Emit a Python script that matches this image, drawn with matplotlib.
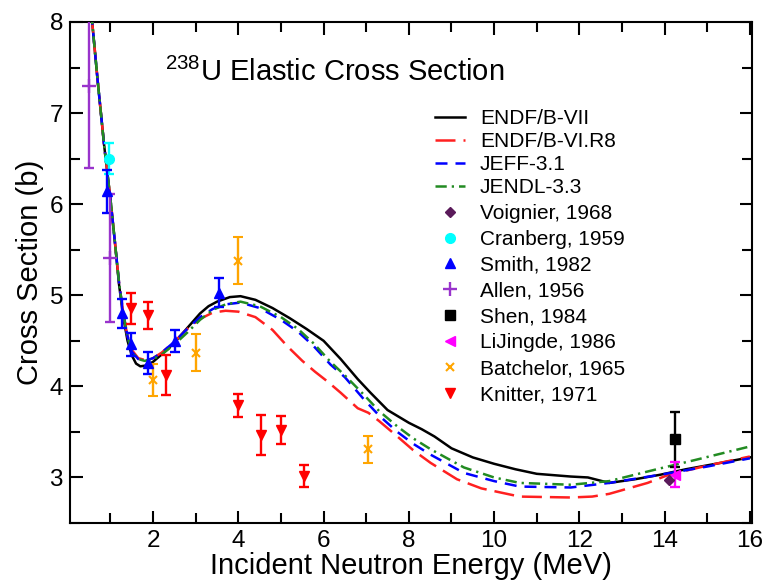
import matplotlib
matplotlib.use("Agg")
import matplotlib.pyplot as plt
from matplotlib.ticker import MultipleLocator
import numpy as np

plt.rcParams['font.family'] = ['Liberation Sans', 'DejaVu Sans']
plt.rcParams['mathtext.fontset'] = 'custom'
plt.rcParams['mathtext.rm'] = 'Liberation Sans'
plt.rcParams['mathtext.it'] = 'Liberation Sans:italic'

# Evaluated cross sections (MeV, barns)
endf7_e = [0.55, 0.70, 0.85, 1.00, 1.10, 1.20, 1.30, 1.40, 1.50, 1.60, 1.70, 1.85,
           2.00, 2.20, 2.50, 2.80, 3.10, 3.30, 3.50, 3.80, 4.05, 4.40, 4.80, 5.20, 5.60,
           6.00, 6.40, 6.80, 7.10, 7.50, 8.00, 8.30, 8.60, 9.00, 9.50, 10.0, 10.5,
           11.0, 11.8, 12.2, 12.7, 13.3, 13.9, 14.5, 15.2, 16.0]
endf7_xs = [8.10, 7.35, 6.65, 6.05, 5.60, 5.12, 4.76, 4.50, 4.34, 4.25, 4.22, 4.23,
            4.27, 4.35, 4.48, 4.64, 4.80, 4.88, 4.93, 4.98, 4.99, 4.95, 4.86, 4.75, 4.63,
            4.50, 4.30, 4.08, 3.93, 3.74, 3.60, 3.53, 3.45, 3.32, 3.22, 3.15, 3.09,
            3.04, 3.01, 3.00, 2.94, 2.98, 3.03, 3.09, 3.15, 3.22]

endf6_e = [0.55, 0.70, 0.85, 1.00, 1.10, 1.20, 1.30, 1.40, 1.50, 1.65, 1.80, 2.00,
           2.20, 2.50, 2.80, 3.10, 3.40, 3.70, 4.00, 4.40, 4.80, 5.15, 5.50, 5.80,
           6.10, 6.40, 6.80, 7.05, 7.30, 7.73, 8.10, 8.51, 9.13, 9.70, 10.6, 11.8,
           12.3, 12.7, 13.6, 14.1, 15.0, 16.0]
endf6_xs = [8.10, 7.35, 6.65, 6.05, 5.60, 5.14, 4.80, 4.55, 4.40, 4.31, 4.29, 4.31,
            4.37, 4.49, 4.63, 4.74, 4.81, 4.83, 4.82, 4.76, 4.62, 4.44, 4.28, 4.16,
            4.05, 3.93, 3.76, 3.71, 3.62, 3.45, 3.30, 3.16, 2.98, 2.88, 2.79, 2.78,
            2.79, 2.82, 2.94, 3.03, 3.13, 3.23]

jeff_e = [0.55, 0.70, 0.85, 1.00, 1.10, 1.20, 1.30, 1.40, 1.50, 1.65, 1.80, 2.00,
          2.20, 2.50, 2.80, 3.10, 3.40, 3.70, 4.05, 4.50, 5.00, 5.40, 5.77, 6.16,
          6.50, 6.94, 7.30, 7.73, 8.10, 8.51, 9.29, 10.0, 10.6, 11.8, 12.7, 13.9,
          15.0, 16.0]
jeff_xs = [8.10, 7.35, 6.65, 6.05, 5.60, 5.14, 4.80, 4.55, 4.38, 4.30, 4.28, 4.31,
           4.37, 4.49, 4.63, 4.76, 4.85, 4.90, 4.92, 4.86, 4.73, 4.60, 4.44, 4.24,
           4.10, 3.86, 3.68, 3.50, 3.37, 3.25, 3.05, 2.96, 2.90, 2.89, 2.94, 3.03,
           3.12, 3.21]

jendl_e = [0.55, 0.70, 0.85, 1.00, 1.10, 1.20, 1.30, 1.40, 1.50, 1.65, 1.80, 2.00,
           2.20, 2.50, 2.80, 3.10, 3.40, 3.70, 4.05, 4.50, 5.00, 5.40, 5.77, 6.16,
           6.50, 6.94, 7.30, 7.73, 8.10, 8.51, 9.29, 10.0, 10.6, 11.8, 12.7, 13.9,
           14.7, 16.0]
jendl_xs = [8.10, 7.35, 6.65, 6.05, 5.60, 5.14, 4.80, 4.55, 4.38, 4.30, 4.28, 4.30,
            4.35, 4.46, 4.59, 4.73, 4.84, 4.90, 4.93, 4.88, 4.76, 4.63, 4.47, 4.27,
            4.12, 3.91, 3.73, 3.56, 3.43, 3.31, 3.11, 3.00, 2.94, 2.92, 2.96, 3.10,
            3.19, 3.34]

# Measurements: energy, cross section, uncertainty
voignier_e, voignier_xs = [14.1], [2.97]
cranberg_e, cranberg_xs, cranberg_err = [0.96], [6.50], [0.17]
smith_e = [0.92, 1.26, 1.47, 1.87, 2.52, 3.55]
smith_xs = [6.14, 4.80, 4.46, 4.26, 4.50, 5.03]
smith_err = [0.24, 0.16, 0.13, 0.12, 0.12, 0.16]
allen_e = [0.50, 1.00]
allen_xs = [7.30, 5.41]
allen_err = [0.90, 0.70]
shen_e, shen_xs, shen_err = [14.25], [3.42], [0.30]
li_e, li_xs, li_err = [14.25], [3.03], [0.14]
batch_e = [2.0, 3.0, 4.0, 7.03]
batch_xs = [4.07, 4.37, 5.38, 3.31]
batch_err = [0.18, 0.20, 0.26, 0.15]
knitter_e = [1.48, 1.89, 2.31, 4.00, 4.52, 5.01, 5.53]
knitter_xs = [4.86, 4.78, 4.12, 3.79, 3.47, 3.52, 3.02]
knitter_err = [0.17, 0.15, 0.22, 0.13, 0.22, 0.15, 0.12]

W, H = 769, 584
fig = plt.figure(figsize=(W / 100, H / 100), dpi=100)
ax = fig.add_axes([70 / W, 1 - 523 / H, 682 / W, 501 / H])

lw = 1.8
l1, = ax.plot(endf7_e, endf7_xs, color='black', lw=lw, label='ENDF/B-VII', zorder=3)
l2, = ax.plot(endf6_e, endf6_xs, color='#ff2020', lw=lw, dashes=(8, 3.2),
              label='ENDF/B-VI.R8', zorder=3)
l3, = ax.plot(jeff_e, jeff_xs, color='#0000ff', lw=lw, dashes=(4.8, 3.2),
              label='JEFF-3.1', zorder=3)
l4, = ax.plot(jendl_e, jendl_xs, color='#228b22', lw=lw, dashes=(4.5, 2, 0.9, 2),
              label='JENDL-3.3', zorder=3)

eb = dict(elinewidth=1.7, capthick=1.7, capsize=3.6, linestyle='none', zorder=4)
h1, = ax.plot(voignier_e, voignier_xs, 'D', color='#5a1a5a', ms=5,
              linestyle='none', label='Voignier, 1968', zorder=5)
h2 = ax.errorbar(cranberg_e, cranberg_xs, yerr=cranberg_err, fmt='o', color='#00ffff',
                 ms=7, label='Cranberg, 1959', **eb)
h3 = ax.errorbar(smith_e, smith_xs, yerr=smith_err, fmt='^', color='#0000ff',
                 ms=7, label='Smith, 1982', **eb)
h4 = ax.errorbar(allen_e, allen_xs, yerr=allen_err, fmt='+', color='#9933cc',
                 ms=10, mew=1.7, label='Allen, 1956', **eb)
h5 = ax.errorbar(shen_e, shen_xs, yerr=shen_err, fmt='s', color='black',
                 ms=7, label='Shen, 1984', **eb)
h6 = ax.errorbar(li_e, li_xs, yerr=li_err, fmt='<', color='#ff00ff',
                 ms=7, label='LiJingde, 1986', **eb)
h7 = ax.errorbar(batch_e, batch_xs, yerr=batch_err, fmt='x', color='#ffa500',
                 ms=6, mew=1.5, label='Batchelor, 1965', **eb)
h8 = ax.errorbar(knitter_e, knitter_xs, yerr=knitter_err, fmt='v', color='#ff0000',
                 ms=7, label='Knitter, 1971', **eb)

ax.set_xlim(0.05, 16.05)
ax.set_ylim(2.5, 8)
ax.xaxis.set_major_locator(MultipleLocator(2))
ax.xaxis.set_minor_locator(MultipleLocator(1))
ax.yaxis.set_major_locator(MultipleLocator(1))
ax.yaxis.set_minor_locator(MultipleLocator(0.5))
ax.tick_params(which='both', direction='in', top=True, right=True, width=1.5,
               labelsize=17.5, pad=5)
ax.tick_params(which='major', length=9)
ax.tick_params(which='minor', length=7)
for s in ax.spines.values():
    s.set_linewidth(1.5)

ax.set_xlabel('Incident Neutron Energy (MeV)', fontsize=21, labelpad=0)
ax.set_ylabel('Cross Section (b)', fontsize=21, labelpad=4)
ax.text(0.139, 0.90, r'$^{238}$U Elastic Cross Section', transform=ax.transAxes,
        fontsize=21, ha='left', va='center')

leg_kw = dict(frameon=False, fontsize=15, borderpad=0, borderaxespad=0,
              handlelength=1.45, handletextpad=0.7, loc='upper left')
lines = [l1, l2, l3, l4]
leg1 = fig.legend(lines, [h.get_label() for h in lines],
                  bbox_to_anchor=(435 / W, 1 - 109 / H), labelspacing=0.19, **leg_kw)
marks = [h1, h2, h3, h4, h5, h6, h7, h8]
labels = ['Voignier, 1968', 'Cranberg, 1959', 'Smith, 1982', 'Allen, 1956',
          'Shen, 1984', 'LiJingde, 1986', 'Batchelor, 1965', 'Knitter, 1971']
handles = [h if not hasattr(h, 'lines') else h.lines[0] for h in marks]
leg2 = fig.legend(handles, labels, bbox_to_anchor=(435 / W, 1 - 204 / H),
                  labelspacing=0.33, **leg_kw)

fig.savefig('out.png', dpi=100)
